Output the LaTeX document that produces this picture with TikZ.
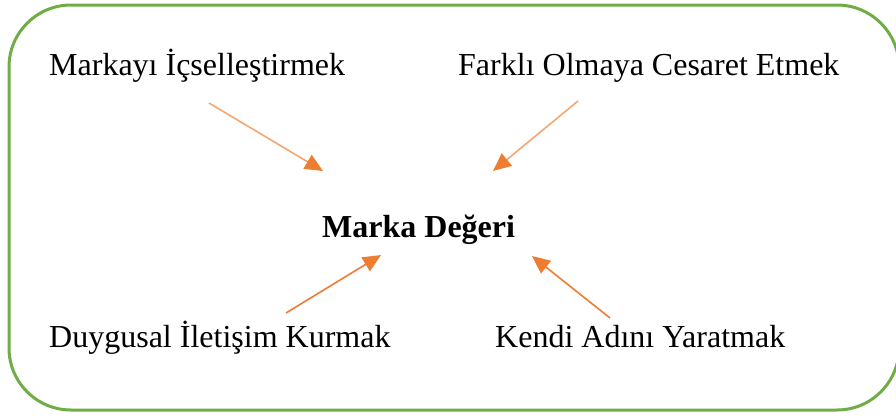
\documentclass[tikz,border=0pt]{standalone}
\usepackage{fontspec}
\setmainfont{Liberation Serif}
\usetikzlibrary{arrows.meta}
\definecolor{framegreen}{HTML}{70AD47}
\definecolor{arroworange}{HTML}{ED7D31}
\definecolor{arrowlight}{HTML}{F4A772}
\tikzset{
  label/.style={anchor=base west, inner sep=0pt, font=\fontsize{32}{38}\selectfont},
  centre/.style={label, font=\fontsize{32}{38}\selectfont\bfseries},
  feed/.style={line width=1.6pt, draw=#1,
    -{Triangle[length=18pt,width=16pt,fill=arroworange,color=arroworange]}},
}
\begin{document}
\begin{tikzpicture}[x=1pt,y=-1pt]
  \useasboundingbox (0,0) rectangle (896,415);
  \clip (0,0) rectangle (896,415);
  % rounded frame, running past the right edge
  \draw[framegreen, line width=3pt, rounded corners=62pt] (9,5) rectangle (899,410);

  % labels
  \node[label] (ic)  at (49,75)  {Markayı İçselleştirmek};
  \node[label] (fark) at (458,75) {Farklı Olmaya Cesaret Etmek};
  \node[centre] (mv) at (322,237) {Marka Değeri};
  \node[label] (duy) at (49,347)  {Duygusal İletişim Kurmak};
  \node[label] (ken) at (495,347) {Kendi Adını Yaratmak};

  % arrow end points around the centre label
  \coordinate (a1s) at (209,103);  \coordinate (a1e) at (323,171);
  \coordinate (a2s) at (578,101);  \coordinate (a2e) at (493,171);
  \coordinate (a3s) at (286,313);  \coordinate (a3e) at (381,255);
  \coordinate (a4s) at (610,318);  \coordinate (a4e) at (532,256);

  \draw[feed=arrowlight]  (a1s) -- (a1e);
  \draw[feed=arrowlight]  (a2s) -- (a2e);
  \draw[feed=arroworange] (a3s) -- (a3e);
  \draw[feed=arroworange] (a4s) -- (a4e);
\end{tikzpicture}
\end{document}
